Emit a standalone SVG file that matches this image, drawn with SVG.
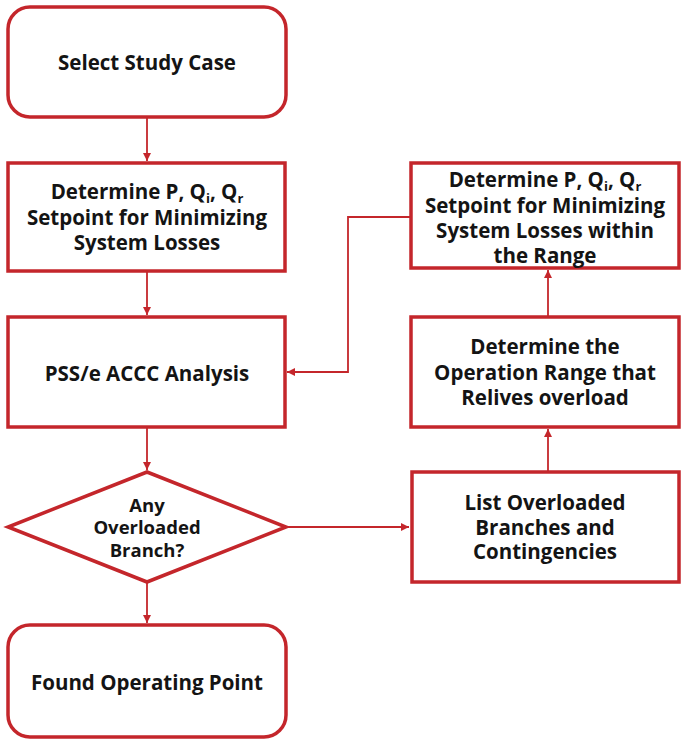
<svg xmlns="http://www.w3.org/2000/svg" width="681" height="742" viewBox="0 0 681 742">
  <style>
    .box { fill: #ffffff; stroke: #c4262b; stroke-width: 3.5; }
    .link { fill: none; stroke: #c4262b; stroke-width: 1.8; }
    .lbl { font-family: "Open Sans", "Noto Sans", sans-serif; font-weight: bold; font-size: 20.5px; fill: #141414; text-anchor: middle; }
    .sm { font-size: 18.5px; }
    .sub { font-size: 13px; }
  </style>
  <defs>
    <marker id="arr" viewBox="0 0 10 10" refX="10" refY="5" markerWidth="8" markerHeight="8" orient="auto" markerUnits="userSpaceOnUse">
      <path d="M0,0 L10,5 L0,10 z" fill="#c4262b"/>
    </marker>
  </defs>

  <rect width="681" height="742" fill="#ffffff"/>

  <g id="connectors">
    <line class="link" x1="147" y1="117" x2="147" y2="161" marker-end="url(#arr)"/>
    <line class="link" x1="147" y1="271" x2="147" y2="315" marker-end="url(#arr)"/>
    <line class="link" x1="147" y1="427" x2="147" y2="470" marker-end="url(#arr)"/>
    <line class="link" x1="147" y1="582" x2="147" y2="623" marker-end="url(#arr)"/>
    <line class="link" x1="286" y1="527" x2="409" y2="527" marker-end="url(#arr)"/>
    <line class="link" x1="548" y1="472" x2="548" y2="429" marker-end="url(#arr)"/>
    <line class="link" x1="548" y1="317" x2="548" y2="270" marker-end="url(#arr)"/>
    <polyline class="link" points="411,217 348,217 348,372 287,372" marker-end="url(#arr)"/>
  </g>

  <g id="select-study-case">
    <rect class="box" x="8" y="7" width="278" height="110" rx="22" ry="22"/>
    <text class="lbl" x="147" y="70">Select Study Case</text>
  </g>

  <g id="setpoint-min-losses">
    <rect class="box" x="8" y="163" width="277" height="108"/>
    <text class="lbl" x="147" y="199">Determine P, Q<tspan class="sub" baseline-shift="-4">i</tspan>, Q<tspan class="sub" baseline-shift="-4">r</tspan></text>
    <text class="lbl" x="147" y="224.5">Setpoint for Minimizing</text>
    <text class="lbl" x="147" y="250">System Losses</text>
  </g>

  <g id="accc-analysis">
    <rect class="box" x="8" y="317" width="277" height="110"/>
    <text class="lbl" x="147" y="381">PSS/e ACCC Analysis</text>
  </g>

  <g id="overload-check">
    <polygon class="box" points="147,472 286,527 147,582 8,527"/>
    <text class="lbl sm" x="147" y="512">Any</text>
    <text class="lbl sm" x="147" y="534">Overloaded</text>
    <text class="lbl sm" x="147" y="557">Branch?</text>
  </g>

  <g id="found-operating-point">
    <rect class="box" x="8" y="625" width="278" height="112" rx="22" ry="22"/>
    <text class="lbl" x="147" y="690">Found Operating Point</text>
  </g>

  <g id="setpoint-within-range">
    <rect class="box" x="411" y="163" width="268" height="105"/>
    <text class="lbl" x="545" y="187">Determine P, Q<tspan class="sub" baseline-shift="-4">i</tspan>, Q<tspan class="sub" baseline-shift="-4">r</tspan></text>
    <text class="lbl" x="545" y="212.5">Setpoint for Minimizing</text>
    <text class="lbl" x="545" y="238">System Losses within</text>
    <text class="lbl" x="545" y="263">the Range</text>
  </g>

  <g id="operation-range">
    <rect class="box" x="411" y="317" width="268" height="110"/>
    <text class="lbl" x="545" y="354">Determine the</text>
    <text class="lbl" x="545" y="379.5">Operation Range that</text>
    <text class="lbl" x="545" y="405">Relives overload</text>
  </g>

  <g id="overloaded-branches">
    <rect class="box" x="412" y="472" width="267" height="110"/>
    <text class="lbl" x="545" y="510">List Overloaded</text>
    <text class="lbl" x="545" y="534.5">Branches and</text>
    <text class="lbl" x="545" y="559">Contingencies</text>
  </g>
</svg>
